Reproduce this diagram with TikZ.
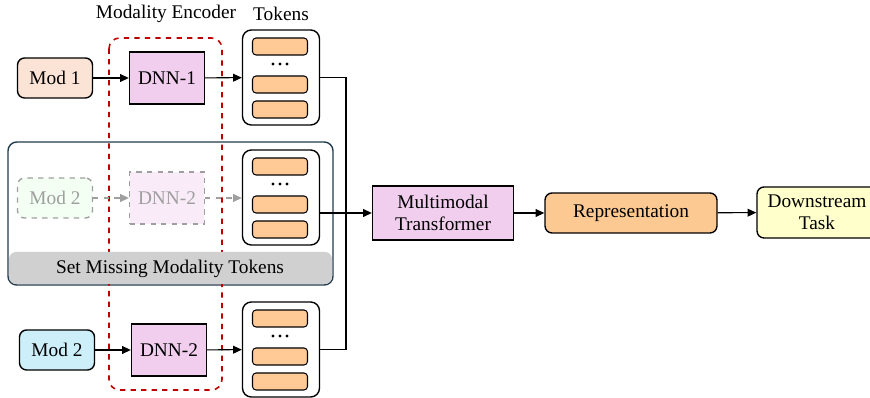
\documentclass[tikz,border=0pt]{standalone}
\usepackage{fontspec}
\setmainfont{Liberation Serif}
\usetikzlibrary{arrows.meta}
\definecolor{modone}{HTML}{FBE3D6}
\definecolor{modtwo}{HTML}{CCEFFA}
\definecolor{dnncol}{HTML}{F1CEEE}
\definecolor{tokcol}{HTML}{FFCA95}
\definecolor{repcol}{HTML}{FDC993}
\definecolor{downcol}{HTML}{FFFFCC}
\definecolor{encred}{HTML}{C00000}
\definecolor{setborder}{HTML}{203A4C}
\definecolor{setgrey}{HTML}{D0D0D0}
\tikzset{
	box/.style={draw, line width=0.8pt, minimum width=1.5cm, minimum height=0.8cm, align=center, inner sep=1pt},
	rbox/.style={box, rounded corners=4pt},
	ghost/.style={dashed, draw=gray!75, text=gray!75},
	tokbox/.style={draw, line width=0.8pt, rounded corners=5pt, minimum width=1.54cm, minimum height=1.9cm},
	tok/.style={draw, line width=0.6pt, rounded corners=2pt, fill=tokcol, minimum width=1.1cm, minimum height=0.34cm},
	arr/.style={-{Triangle[length=5pt,width=4.5pt]}, line width=0.6pt}
}
\begin{document}
\begin{tikzpicture}[x=0.02cm, y=-0.02cm, font=\fontsize{11}{12.5}\selectfont]
	\useasboundingbox (0,0) rectangle (870,398);

	% missing modality panel
	\draw[setborder, line width=0.8pt, rounded corners=5pt] (8,142) rectangle (333,285);

	% encoder frame
	\draw[encred, dashed, line width=0.9pt, rounded corners=6pt] (109,38) rectangle (222,390);
	\node (ME) at (166,14) {Modality Encoder};
	\node (TK) at (281,14) {Tokens};

	\fill[setgrey, rounded corners=4pt] (9,252) rectangle (332,284);
	\node (SM) at (170,269) {Set Missing Modality Tokens};

	\node[rbox, fill=modone] (M1) at (55,78) {Mod 1};
	\node[box, fill=dnncol, minimum height=1.04cm] (D1) at (167,78) {DNN-1};

	\node[rbox, ghost, fill=green!5] (M2g) at (55,198) {Mod 2};
	\node[box, ghost, fill=dnncol!40, minimum height=1.04cm] (D2g) at (167,198) {DNN-2};

	\node[rbox, fill=modtwo] (M2) at (57,350) {Mod 2};
	\node[box, fill=dnncol, minimum height=1.04cm] (D2) at (169,350) {DNN-2};

	% token stacks
	\foreach \t/\n in {30/T1,150/T2,302/T3}{
		\node[tokbox] (\n) at (281,\t+47.5) {};
		\foreach \y in {16.5,54.5,79.5}
			\node[tok] at (280,\t+\y) {};
		\foreach \d in {-7,0,7}
			\fill (280+\d,\t+34) circle (0.9pt);
	}

	\node[box, fill=dnncol, minimum width=2.82cm, minimum height=1.08cm] (MT) at (443,213) {Multimodal\\Transformer};
	\node[rbox, fill=repcol, minimum width=3.44cm] (RP) at (631,213) {Representation};
	\node[rbox, fill=downcol, minimum width=2.4cm, minimum height=1.02cm] (DT) at (817,212.5) {Downstream\\Task};

	\coordinate (J) at (346,213);

	\draw[arr] (M1) -- (D1);
	\draw[arr] (D1) -- (T1);
	\draw[arr, ghost] (M2g) -- (D2g);
	\draw[arr, ghost] (D2g) -- (T2.west |- D2g);
	\draw[arr] (M2) -- (D2);
	\draw[arr] (D2) -- (T3);

	\draw[line width=0.6pt] (T1.east) -| (J);
	\draw[line width=0.6pt] (T3.east) -| (J);
	\draw[arr] (T2.east |- J) -- (MT);
	\draw[arr] (MT) -- (RP);
	\draw[arr] (RP) -- (DT);
\end{tikzpicture}
\end{document}
